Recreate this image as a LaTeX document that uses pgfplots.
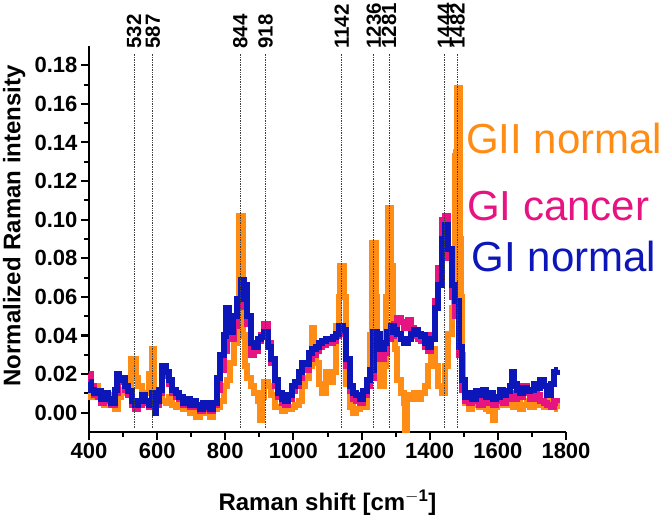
\documentclass[border=0pt]{standalone}
\usepackage{pgfplots}
\pgfplotsset{compat=1.18}
\usepackage{pgfplotstable}
\usepackage{fontspec}
\setmainfont{Liberation Sans}
\definecolor{cor}{RGB}{255,140,20}
\definecolor{cmag}{RGB}{230,20,130}
\definecolor{cblu}{RGB}{12,22,185}

\pgfplotstableread{
x y
400 0.012
410 0.008
420 0.014
430 0.010
440 0.006
450 0.004
460 0.009
470 0.006
480 0.002
490 0.008
500 0.012
510 0.010
520 0.012
525 0.028
535 0.028
540 0.018
550 0.014
560 0.008
570 0.010
580 0.020
587 0.033
592 0.012
600 0.008
610 0.010
620 0.006
630 0.005
640 0.008
650 0.004
660 0.003
670 0.006
680 0.002
690 0.004
700 0.000
710 0.003
720 -0.002
730 0.002
740 0.000
750 0.004
760 -0.002
770 0.002
780 0.003
790 0.006
800 0.014
810 0.017
820 0.026
830 0.036
838 0.052
842 0.102
849 0.102
853 0.040
860 0.024
870 0.018
880 0.014
890 0.010
900 0.006
905 -0.004
910 0.008
918 0.016
930 0.014
940 0.009
950 0.003
960 0.003
970 0.001
980 0.002
990 0.002
1000 0.003
1010 0.004
1020 0.006
1030 0.014
1040 0.018
1050 0.024
1058 0.044
1064 0.028
1070 0.026
1080 0.015
1090 0.010
1100 0.021
1110 0.016
1120 0.021
1130 0.045
1137 0.060
1139 0.076
1146 0.076
1150 0.060
1160 0.015
1170 0.003
1180 0.000
1190 0.002
1200 0.005
1210 0.003
1220 0.014
1228 0.040
1231 0.060
1233 0.088
1239 0.088
1243 0.060
1250 0.036
1260 0.014
1270 0.024
1276 0.060
1279 0.106
1285 0.106
1289 0.076
1295 0.045
1300 0.033
1310 0.017
1320 0.010
1327 0.005
1330 -0.009
1335 0.007
1340 0.009
1350 0.007
1360 0.010
1370 0.007
1380 0.010
1390 0.014
1400 0.024
1410 0.033
1420 0.024
1430 0.014
1440 0.010
1450 0.024
1460 0.041
1468 0.054
1472 0.070
1474 0.133
1478 0.135
1480 0.156
1483 0.168
1488 0.168
1490 0.090
1493 0.060
1497 0.030
1500 0.012
1510 0.005
1520 0.002
1530 0.004
1540 0.006
1550 0.003
1560 0.004
1570 0.002
1580 0.001
1590 -0.004
1595 0.003
1600 0.005
1610 0.006
1620 0.004
1630 0.007
1640 0.004
1650 0.003
1660 0.006
1670 0.002
1680 0.004
1690 0.006
1700 0.003
1710 0.005
1720 0.007
1730 0.004
1740 0.003
1750 0.006
1760 0.003
1770 0.004
1775 0.002
}\orangedata

\pgfplotstableread{
x y
400 0.020
410 0.014
420 0.009
430 0.008
440 0.005
450 0.008
460 0.006
470 0.004
480 0.010
490 0.016
500 0.017
510 0.012
520 0.009
530 0.004
540 0.002
550 0.004
560 0.007
570 0.005
580 0.003
590 0.008
600 0.004
610 0.010
620 0.021
630 0.019
640 0.015
650 0.010
660 0.008
670 0.007
680 0.004
690 0.005
700 0.003
710 0.005
720 0.003
730 0.001
740 0.003
750 0.002
760 0.001
770 0.004
780 0.012
790 0.022
800 0.032
810 0.040
820 0.038
830 0.045
840 0.055
850 0.066
860 0.062
870 0.046
880 0.030
890 0.032
900 0.037
910 0.040
920 0.046
930 0.036
940 0.026
950 0.014
960 0.008
970 0.005
980 0.004
990 0.007
1000 0.011
1010 0.014
1020 0.018
1030 0.023
1040 0.022
1050 0.028
1060 0.030
1070 0.032
1080 0.034
1090 0.035
1100 0.036
1110 0.036
1120 0.037
1130 0.040
1140 0.044
1150 0.041
1160 0.024
1170 0.011
1180 0.007
1190 0.006
1200 0.005
1210 0.009
1220 0.014
1230 0.018
1240 0.036
1250 0.034
1260 0.028
1270 0.031
1280 0.038
1290 0.040
1300 0.046
1310 0.049
1320 0.047
1330 0.044
1340 0.048
1350 0.044
1360 0.040
1370 0.038
1380 0.037
1390 0.034
1400 0.032
1410 0.040
1420 0.058
1430 0.075
1440 0.100
1450 0.102
1460 0.080
1470 0.060
1480 0.050
1490 0.030
1500 0.012
1510 0.006
1520 0.005
1530 0.008
1540 0.006
1550 0.004
1560 0.009
1570 0.005
1580 0.007
1590 0.004
1600 0.006
1610 0.009
1620 0.005
1630 0.007
1640 0.010
1650 0.007
1660 0.012
1670 0.008
1680 0.014
1690 0.010
1700 0.007
1710 0.012
1720 0.009
1730 0.006
1740 0.005
1750 0.004
1760 0.003
1770 0.006
1775 0.005
}\magdata

\pgfplotstableread{
x y
400 0.016
410 0.012
420 0.010
430 0.011
440 0.007
450 0.010
460 0.007
470 0.005
480 0.012
485 0.020
490 0.017
500 0.018
510 0.014
520 0.011
530 0.006
540 0.004
550 0.006
560 0.009
570 0.006
580 0.004
590 0.010
595 0.000
600 0.006
610 0.012
620 0.024
630 0.021
640 0.017
650 0.012
660 0.010
670 0.008
680 0.005
690 0.007
700 0.004
710 0.006
720 0.004
730 0.002
740 0.005
750 0.003
760 0.002
770 0.005
780 0.018
790 0.030
800 0.040
805 0.054
815 0.042
830 0.050
840 0.059
850 0.069
860 0.066
870 0.050
880 0.036
890 0.034
900 0.038
910 0.039
920 0.042
930 0.034
940 0.028
950 0.017
960 0.010
970 0.007
980 0.006
990 0.009
1000 0.014
1010 0.016
1020 0.021
1030 0.026
1040 0.025
1050 0.031
1060 0.033
1070 0.034
1080 0.036
1090 0.037
1100 0.038
1110 0.038
1120 0.039
1130 0.041
1140 0.045
1150 0.043
1160 0.028
1170 0.014
1180 0.010
1190 0.009
1200 0.007
1210 0.011
1220 0.017
1230 0.022
1240 0.042
1250 0.041
1260 0.033
1270 0.036
1280 0.042
1290 0.045
1300 0.043
1310 0.041
1320 0.038
1330 0.036
1340 0.038
1350 0.041
1360 0.043
1370 0.041
1380 0.040
1390 0.036
1400 0.034
1410 0.038
1420 0.054
1430 0.066
1440 0.090
1450 0.097
1460 0.085
1470 0.066
1480 0.058
1490 0.034
1500 0.017
1510 0.008
1520 0.010
1530 0.007
1540 0.011
1550 0.009
1560 0.012
1570 0.008
1580 0.010
1590 0.007
1600 0.008
1610 0.012
1620 0.009
1630 0.011
1640 0.014
1645 0.021
1650 0.015
1660 0.012
1670 0.010
1680 0.013
1690 0.011
1700 0.012
1710 0.015
1720 0.013
1730 0.017
1740 0.014
1750 0.009
1760 0.015
1770 0.021
1775 0.022
}\bludata

\begin{document}
\begin{tikzpicture}
\begin{axis}[
  scale only axis,
  width=477pt, height=386pt,
  xmin=400, xmax=1800, ymin=-0.01, ymax=0.19,
  axis lines*=left,
  clip=false,
  axis line style={line width=2.2pt},
  every tick/.style={black, line width=2pt},
  tick align=outside,
  major tick length=8pt, minor tick length=5pt,
  xtick={400,600,...,1800},
  ytick={0,0.02,...,0.18},
  minor x tick num=1, minor y tick num=1,
  /pgf/number format/assume math mode=true,
  /pgf/number format/1000 sep={},
  yticklabel style={/pgf/number format/.cd, fixed, fixed zerofill, precision=2},
  ticklabel style={font=\bfseries\fontsize{22}{22}\selectfont},
  scaled y ticks=false,
  xlabel={Raman shift [cm$^{\mathbf{-1}}$]},
  ylabel={Normalized Raman intensity},
  every axis x label/.style={at={(axis description cs:0.5,-0.184)}, anchor=center, font=\bfseries\fontsize{24}{24}\selectfont},
  every axis y label/.style={at={(axis description cs:-0.157,0.534)}, anchor=center, rotate=90, font=\bfseries\fontsize{24}{24}\selectfont},
]
\addplot[cor, line width=6pt, const plot mark mid] table {\orangedata};
\addplot[cmag, line width=6pt, const plot mark mid] table {\magdata};
\addplot[cblu, line width=6pt, const plot mark mid] table {\bludata};

\pgfplotsinvokeforeach{532,587,844,918,1142,1236,1281,1444,1482}{
  \draw[black!75, densely dotted, line width=0.7pt] (axis cs:#1,-0.008) -- (axis cs:#1,0.186);
  \node[rotate=90, anchor=west, inner sep=0pt, font=\bfseries\fontsize{20.5}{20.5}\selectfont] at (axis cs:#1,0.1885) {#1};
}

\node[anchor=west, inner sep=0pt, text=cor, font=\fontsize{42}{42}\selectfont] at (axis cs:1506,0.142) {GII normal};
\node[anchor=west, inner sep=0pt, text=cmag, font=\fontsize{42}{42}\selectfont] at (axis cs:1509,0.107) {GI cancer};
\node[anchor=west, inner sep=0pt, text=cblu, font=\fontsize{42}{42}\selectfont] at (axis cs:1523,0.081) {GI normal};
\coordinate (sw) at (rel axis cs:0,0);
\end{axis}
\pgfresetboundingbox
\path (sw) ++(-89pt,-87pt) rectangle ++(666pt,519pt);
\end{tikzpicture}
\end{document}
